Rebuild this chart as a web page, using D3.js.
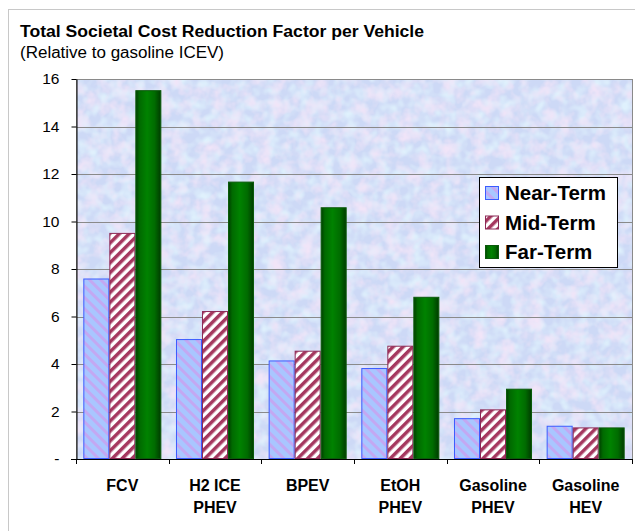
<!DOCTYPE html>
<meta charset="utf-8">
<style>
    body { margin: 0; background: white; }
    text { font-family: "Liberation Sans", Arial, sans-serif; }
</style>
<body>
<script src="https://cdn.jsdelivr.net/npm/d3@7"></script>
<script>
    var categories = [['FCV'], ['H2 ICE', 'PHEV'], ['BPEV'], ['EtOH', 'PHEV'], ['Gasoline', 'PHEV'], ['Gasoline', 'HEV']],
        seriesNames = ['Near-Term', 'Mid-Term', 'Far-Term'],
        nearTerm = [7.6, 5.05, 4.15, 3.83, 1.72, 1.4],
        midTerm = [9.52, 6.23, 4.56, 4.77, 2.09, 1.33],
        farTerm = [15.53, 11.68, 10.6, 6.83, 2.96, 1.33],
        yTicks = [0, 2, 4, 6, 8, 10, 12, 14, 16];

    var series = [nearTerm, midTerm, farTerm];

    var width = 635, height = 531,
        plotL = 76, plotR = 632, plotT = 79, plotB = 459;

    var svg = d3.select('body').append('svg')
        .attr('width', width)
        .attr('height', height);

    var defs = svg.append('defs');

    // mottled blue/pink background
    var f = defs.append('filter').attr('id', 'mottle')
        .attr('x', 0).attr('y', 0).attr('width', 1).attr('height', 1);
    f.append('feTurbulence').attr('type', 'fractalNoise')
        .attr('baseFrequency', 0.07).attr('numOctaves', 3).attr('seed', 4).attr('result', 'n1');
    f.append('feColorMatrix').attr('in', 'n1').attr('type', 'matrix')
        .attr('values', '0 0 0 0 0.88  0 0 0 0 0.78  0 0 0 0 0.94  2.2 0 0 0 -0.9')
        .attr('result', 'pink');
    f.append('feTurbulence').attr('type', 'fractalNoise')
        .attr('baseFrequency', 0.09).attr('numOctaves', 2).attr('seed', 11).attr('result', 'n2');
    f.append('feColorMatrix').attr('in', 'n2').attr('type', 'matrix')
        .attr('values', '0 0 0 0 0.74  0 0 0 0 0.88  0 0 0 0 0.98  2.2 0 0 0 -0.85')
        .attr('result', 'cyan');
    f.append('feFlood').attr('flood-color', '#cdd9f6').attr('result', 'base');
    var m = f.append('feMerge');
    m.append('feMergeNode').attr('in', 'base');
    m.append('feMergeNode').attr('in', 'cyan');
    m.append('feMergeNode').attr('in', 'pink');

    var pNear = defs.append('pattern').attr('id', 'near')
        .attr('patternUnits', 'userSpaceOnUse').attr('width', 8).attr('height', 8)
        .attr('patternTransform', 'rotate(45)');
    pNear.append('rect').attr('width', 8).attr('height', 8).attr('fill', '#a9c6ff');
    pNear.append('rect').attr('width', 8).attr('height', 3).attr('fill', '#c3a8f2');

    var pMid = defs.append('pattern').attr('id', 'mid')
        .attr('patternUnits', 'userSpaceOnUse').attr('width', 7).attr('height', 7)
        .attr('patternTransform', 'rotate(-45)');
    pMid.append('rect').attr('width', 7).attr('height', 7).attr('fill', '#ffffff');
    pMid.append('rect').attr('width', 7).attr('height', 3.5).attr('fill', '#a5385f');

    var gFar = defs.append('linearGradient').attr('id', 'far');
    [[0, '#004000'], [0.15, '#006a00'], [0.45, '#008200'], [0.75, '#006c00'], [1, '#003c00']]
        .forEach(function(s) {
            gFar.append('stop').attr('offset', s[0]).attr('stop-color', s[1]);
        });

    var fills = ['url(#near)', 'url(#mid)', 'url(#far)'],
        strokes = ['#3b5cff', '#8c2a56', '#0b5a0b'];

    // outer frame
    svg.append('rect').attr('x', 8.5).attr('y', 9.5).attr('width', 640).attr('height', 540)
        .attr('fill', 'none').attr('stroke', '#c8c8c8');

    svg.append('text').attr('x', 20).attr('y', 37)
        .attr('font-size', 16).attr('font-weight', 'bold')
        .attr('textLength', 404).attr('lengthAdjust', 'spacingAndGlyphs')
        .text('Total Societal Cost Reduction Factor per Vehicle');
    svg.append('text').attr('x', 20).attr('y', 58)
        .attr('font-size', 16)
        .attr('textLength', 204).attr('lengthAdjust', 'spacingAndGlyphs')
        .text('(Relative to gasoline ICEV)');

    var x0 = d3.scaleBand().domain(d3.range(categories.length))
        .range([plotL, plotR]).paddingInner(0.158).paddingOuter(0.079);
    var x1 = d3.scaleBand().domain(d3.range(3)).range([0, x0.bandwidth()]);
    var y = d3.scaleLinear().domain([0, 16]).range([plotB, plotT]);

    svg.append('rect').attr('x', plotL).attr('y', plotT)
        .attr('width', plotR - plotL).attr('height', plotB - plotT)
        .attr('fill', '#cdd9f6').attr('filter', 'url(#mottle)');

    svg.append('g').selectAll('line').data(yTicks.slice(1)).enter().append('line')
        .attr('x1', plotL).attr('x2', plotR)
        .attr('y1', function(d) { return Math.round(y(d)) + 0.5; })
        .attr('y2', function(d) { return Math.round(y(d)) + 0.5; })
        .attr('stroke', '#8a8a8a');

    svg.append('rect').attr('x', plotL + 0.5).attr('y', plotT + 0.5)
        .attr('width', plotR - plotL).attr('height', plotB - plotT)
        .attr('fill', 'none').attr('stroke', '#8a8a8a');

    var groups = svg.append('g').selectAll('g').data(categories).enter().append('g')
        .attr('transform', function(d, i) { return 'translate(' + x0(i) + ',0)'; });

    groups.selectAll('rect')
        .data(function(d, i) { return series.map(function(s, k) { return { k: k, v: s[i] }; }); })
        .enter().append('rect')
        .attr('x', function(d) { return x1(d.k) + 0.5; })
        .attr('y', function(d) { return y(d.v) + 0.5; })
        .attr('width', x1.bandwidth() - 1)
        .attr('height', function(d) { return plotB - y(d.v) - 1; })
        .attr('fill', function(d) { return fills[d.k]; })
        .attr('stroke', function(d) { return strokes[d.k]; })
        .attr('stroke-width', 1);

    // y axis
    var yAxis = svg.append('g').attr('transform', 'translate(' + (plotL + 0.5) + ',0)')
        .call(d3.axisLeft(y).tickValues(yTicks).tickSize(5).tickSizeOuter(0)
            .tickFormat(function(d) { return d === 0 ? '-' : d; }));
    yAxis.select('.domain').attr('stroke', '#000');
    yAxis.selectAll('.tick line').attr('stroke', '#000');
    yAxis.selectAll('text').attr('font-size', 15.5).attr('fill', '#000')
        .attr('font-family', '"Liberation Sans", Arial, sans-serif').attr('x', -17);

    // x axis: category boundary ticks
    var bounds = d3.range(categories.length + 1).map(function(i) {
        return plotL + i * (plotR - plotL) / categories.length;
    });
    svg.append('line').attr('x1', plotL - 5).attr('x2', plotR)
        .attr('y1', plotB + 0.5).attr('y2', plotB + 0.5).attr('stroke', '#000');
    svg.append('g').selectAll('line').data(bounds).enter().append('line')
        .attr('x1', function(d) { return Math.round(d) + 0.5; })
        .attr('x2', function(d) { return Math.round(d) + 0.5; })
        .attr('y1', plotB).attr('y2', plotB + 5).attr('stroke', '#000');

    var labels = svg.append('g').selectAll('text').data(categories).enter().append('text')
        .attr('text-anchor', 'middle')
        .attr('font-size', 16).attr('font-weight', 'bold')
        .attr('x', function(d, i) { return x0(i) + x0.bandwidth() / 2; })
        .attr('y', 491);
    labels.selectAll('tspan').data(function(d) { return d; }).enter().append('tspan')
        .attr('x', function() { return d3.select(this.parentNode).attr('x'); })
        .attr('dy', function(d, i) { return i === 0 ? 0 : 22; })
        .text(function(d) { return d; });

    // legend
    var lg = svg.append('g').attr('transform', 'translate(479,177)');
    lg.append('rect').attr('x', 0.5).attr('y', 0.5).attr('width', 138).attr('height', 90)
        .attr('fill', '#fff').attr('stroke', '#000');
    var items = lg.selectAll('g.item').data(seriesNames).enter().append('g')
        .attr('class', 'item')
        .attr('transform', function(d, i) { return 'translate(6,' + (23 + i * 29.5) + ')'; });
    items.append('rect').attr('x', 0.5).attr('y', -13.5).attr('width', 13).attr('height', 13)
        .attr('fill', function(d, i) { return fills[i]; })
        .attr('stroke', function(d, i) { return strokes[i]; });
    items.append('text').attr('x', 20).attr('y', 0)
        .attr('font-size', 20.5).attr('font-weight', 'bold')
        .text(function(d) { return d; });
</script>
</body>
